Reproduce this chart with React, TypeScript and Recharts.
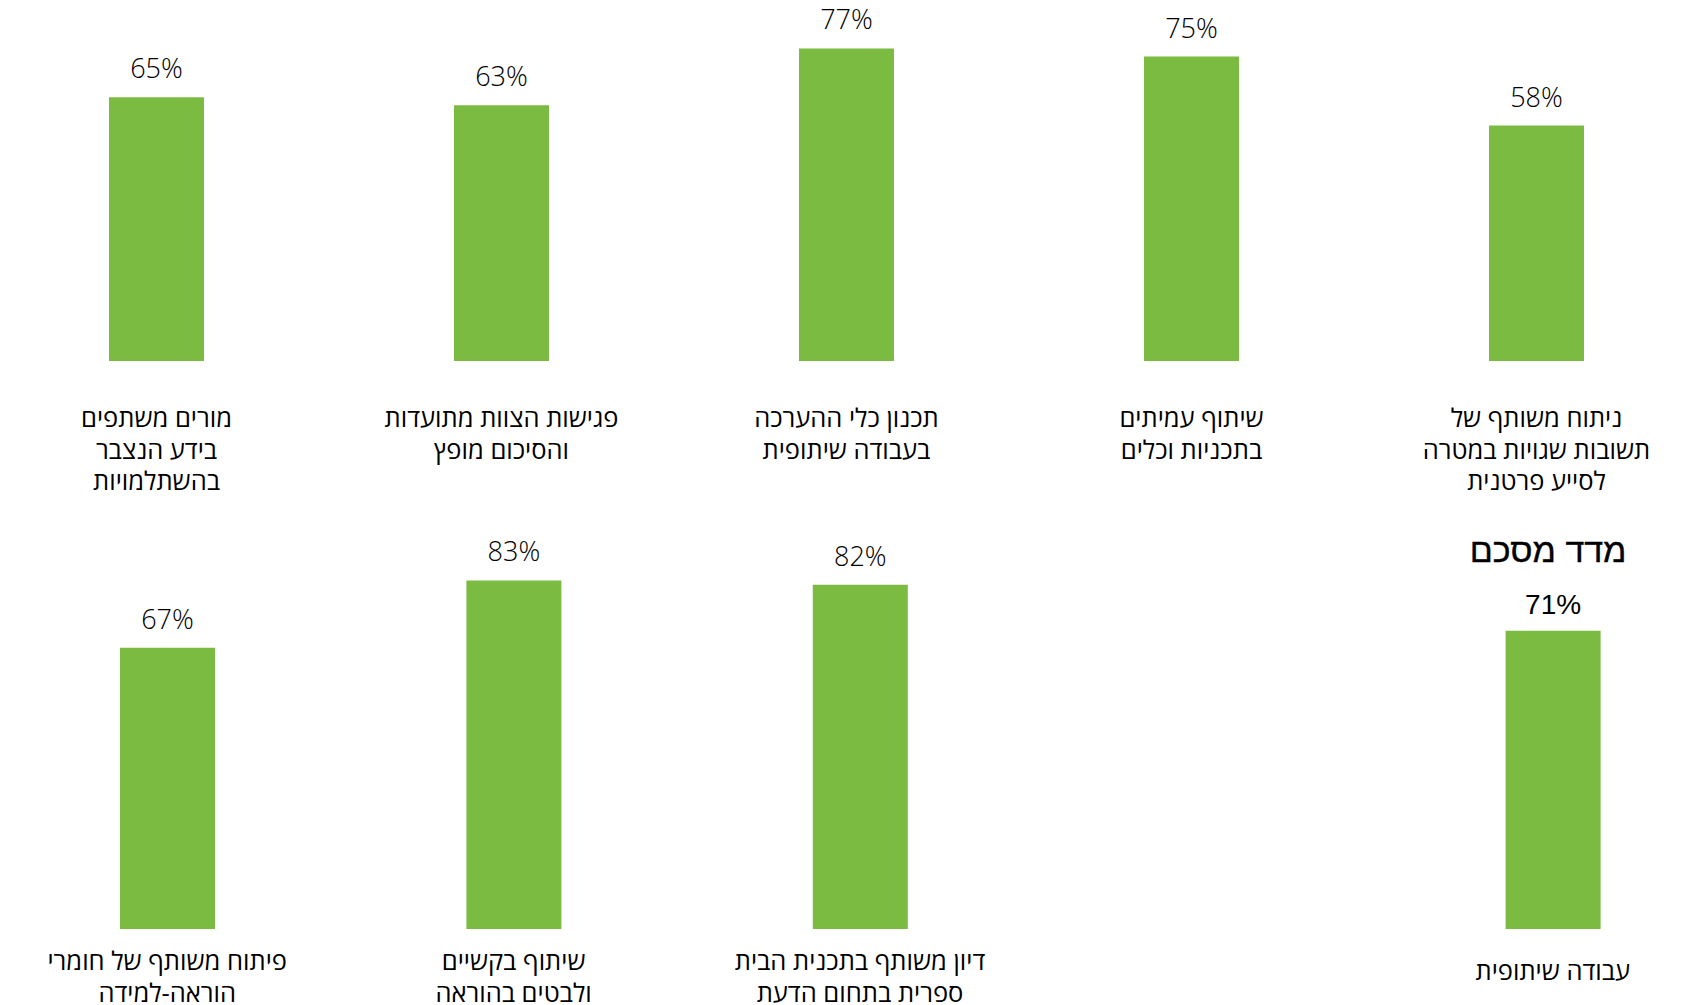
import { BarChart, Bar, XAxis, YAxis, LabelList } from "recharts";

// top row
const topCategories = [
  "מורים משתפים\nבידע הנצבר\nבהשתלמויות",
  "פגישות הצוות מתועדות\nוהסיכום מופץ",
  "תכנון כלי ההערכה\nבעבודה שיתופית",
  "שיתוף עמיתים\nבתכניות וכלים",
  "ניתוח משותף של\nתשובות שגויות במטרה\nלסייע פרטנית",
];
const topValues = [65, 63, 77, 75, 58];

// bottom row (4th slot is empty, last one is the summary index)
const bottomCategories = [
  "פיתוח משותף של חומרי\nהוראה-למידה",
  "שיתוף בקשיים\nולבטים בהוראה",
  "דיון משותף בתכנית הבית\nספרית בתחום הדעת",
  "",
  "עבודה שיתופית",
];
const bottomValues: (number | null)[] = [67, 83, 82, null, 71];

const summaryTitle = "מדד מסכם";
const summaryIndex = 4;

const GREEN = "#7cbb42";
const HEB_FONT = "'Open Sans', 'Liberation Sans', sans-serif";
const SUM_FONT = "'Liberation Sans', Arial, sans-serif";

const topData = topCategories.map((name, i) => ({ name, value: topValues[i], label: topValues[i] }));
const bottomData = bottomCategories.map((name, i) => ({
  name,
  value: bottomValues[i],
  label: i === summaryIndex ? null : bottomValues[i],
  summaryLabel: i === summaryIndex ? bottomValues[i] : null,
  title: i === summaryIndex ? summaryTitle : null,
}));

const CategoryTick = (props: any) => {
  const { x, y, payload, firstLine, summary } = props;
  const lines = String(payload.value).split("\n");
  const isSummary = summary && payload.value === bottomCategories[summaryIndex];
  return (
    <text
      x={x}
      y={y + (isSummary ? 51 : firstLine)}
      textAnchor="middle"
      direction="rtl"
      fontFamily={HEB_FONT}
      fontSize={25.5}
      fill="#000"
    >
      {lines.map((line, i) => (
        <tspan key={i} x={x} dy={i === 0 ? 0 : 31.5}>
          {line}
        </tspan>
      ))}
    </text>
  );
};

const ValueLabel = (props: any) => {
  const { x, y, width, value } = props;
  if (value == null) return null;
  return (
    <text x={Number(x) + Number(width) / 2} y={Number(y) - 19} textAnchor="middle" fontFamily={HEB_FONT} fontWeight={300} fontSize={27} fill="#000">
      {value}%
    </text>
  );
};

const SummaryLabel = (props: any) => {
  const { x, y, width, value } = props;
  if (value == null) return null;
  return (
    <text x={Number(x) + Number(width) / 2} y={Number(y) - 17} textAnchor="middle" fontFamily={SUM_FONT} fontSize={28} fill="#000">
      {value}%
    </text>
  );
};

const TitleLabel = (props: any) => {
  const { x, y, width, value } = props;
  if (value == null) return null;
  return (
    <text x={Number(x) + Number(width) / 2 - 5} y={Number(y) - 69} textAnchor="middle" direction="rtl" fontFamily={SUM_FONT} fontSize={34} fill="#000" stroke="#000" strokeWidth={0.4}>
      {value}
    </text>
  );
};

export default function App() {
  return (
    <div style={{ position: "absolute", left: 0, top: 0, width: 1690, height: 1005, overflow: "hidden", background: "#fff" }}>
      <div style={{ position: "absolute", left: -16, top: 0 }}>
        <BarChart width={1725} height={500} data={topData} margin={{ top: 14, right: 0, bottom: 0, left: 0 }}>
          <XAxis
            dataKey="name"
            interval={0}
            height={139}
            axisLine={false}
            tickLine={false}
            tickSize={0}
            tickMargin={0}
            tick={<CategoryTick firstLine={66} />}
          />
          <YAxis hide domain={[0, 85.5]} />
          <Bar dataKey="value" fill={GREEN} barSize={95} isAnimationActive={false}>
            <LabelList dataKey="label" content={<ValueLabel />} />
          </Bar>
        </BarChart>
      </div>
      <div style={{ position: "absolute", left: -6, top: 470 }}>
        <BarChart width={1732} height={535} data={bottomData} margin={{ top: 37, right: 0, bottom: 0, left: 0 }}>
          <XAxis
            dataKey="name"
            interval={0}
            height={76}
            axisLine={false}
            tickLine={false}
            tickSize={0}
            tickMargin={0}
            tick={<CategoryTick firstLine={41} summary />}
          />
          <YAxis hide domain={[0, 100.5]} />
          <Bar dataKey="value" fill={GREEN} barSize={95} isAnimationActive={false}>
            <LabelList dataKey="label" content={<ValueLabel />} />
            <LabelList dataKey="summaryLabel" content={<SummaryLabel />} />
            <LabelList dataKey="title" content={<TitleLabel />} />
          </Bar>
        </BarChart>
      </div>
    </div>
  );
}
